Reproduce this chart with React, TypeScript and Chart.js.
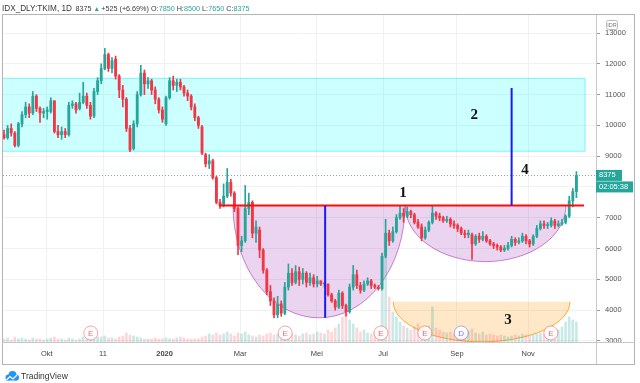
import React, { useEffect, useRef } from 'react';
import { Chart, registerables } from 'chart.js';
Chart.register(...registerables);

// ---------- DATA (one candle ≈ 2 trading days) ----------
const opens = [
  9700, 9600, 9900, 9750, 9350, 10050, 10350, 10600, 10400, 10950,
  10550, 10400, 10450, 10450, 10800, 9800, 9700, 9800, 9700, 10650,
  10700, 10550, 10750, 10950, 10650, 10300, 11100, 11450, 11850, 12300,
  11850, 12150, 11600, 11150, 10850, 9900, 9250, 10050, 11000, 11700,
  11350, 11450, 11150, 10850, 10500, 10050, 10900, 11450, 11300, 11400,
  11250, 11050, 10950, 10600, 10250, 9950, 9050, 8750, 8850, 8300,
  7500, 7400, 7700, 8150, 7800, 7300, 6100, 6250, 7300, 7500,
  6500, 6600, 5950, 5300, 4600, 4300, 3850, 4200, 3900, 4750,
  5200, 4900, 5250, 5000, 5200, 4900, 5050, 4850, 4950, 4850,
  4850, 4500, 4300, 4100, 4550, 4150, 3950, 4750, 5150, 4800,
  4650, 4850, 4950, 4800, 4750, 4700, 5750, 6500, 6250, 6550,
  7000, 7150, 7050, 7200, 7100, 6850, 6700, 6350, 6600, 6850,
  7150, 7050, 7000, 6900, 6950, 6800, 6750, 6650, 6500, 6450,
  6450, 6150, 6400, 6300, 6400, 6250, 6150, 6100, 6050, 5950,
  6000, 6100, 6300, 6200, 6250, 6400, 6250, 6150, 6400, 6650,
  6800, 6750, 6750, 6900, 6750, 6800, 6850, 7050, 7550, 7850,
];
const closes = [
  9600, 9900, 9750, 9350, 10050, 10350, 10600, 10400, 10950, 10550,
  10400, 10450, 10500, 10800, 9800, 9700, 9800, 9700, 10650, 10700,
  10500, 10750, 10950, 10650, 10300, 11100, 11450, 11850, 12300, 11850,
  12100, 11600, 11150, 10850, 9900, 9200, 10050, 11000, 11700, 11350,
  11450, 11150, 10850, 10500, 10200, 10900, 11450, 11300, 11400, 11250,
  11050, 10950, 10600, 10250, 10000, 9100, 8750, 8850, 8300, 7500,
  7400, 7700, 8150, 7800, 7300, 6100, 6250, 7300, 7500, 6500,
  6700, 5950, 5300, 4600, 4300, 3850, 4200, 3900, 4750, 5200,
  4900, 5250, 5000, 5200, 4900, 5050, 4850, 4950, 4850, 4850,
  4500, 4300, 4100, 4550, 4150, 3950, 4750, 5150, 4800, 4650,
  4850, 4950, 4800, 4750, 4700, 5750, 6500, 6250, 6550, 7000,
  7150, 7050, 7200, 7100, 6850, 6700, 6350, 6600, 6850, 7150,
  7050, 7000, 6900, 6950, 6800, 6750, 6650, 6500, 6450, 6500,
  6150, 6400, 6300, 6400, 6250, 6150, 6100, 6050, 5950, 6000,
  6100, 6300, 6200, 6250, 6400, 6250, 6150, 6400, 6650, 6800,
  6750, 6750, 6900, 6750, 6800, 6850, 7050, 7550, 7850, 8375,
];
const highs = [
  9850, 10000, 10050, 9800, 10100, 10450, 10750, 10700, 11100, 11000,
  10600, 10550, 10600, 10900, 10800, 10000, 9950, 9900, 10750, 10800,
  10750, 11050, 11400, 11050, 10750, 11200, 11550, 12000, 12500, 12350,
  12200, 12250, 11650, 11300, 10900, 10000, 10150, 11100, 11950, 11800,
  11550, 11500, 11250, 10900, 10600, 10950, 11550, 11600, 11500, 11500,
  11300, 11150, 11000, 10700, 10300, 10000, 9100, 9050, 8900, 8350,
  7600, 8100, 8600, 8250, 7850, 7350, 6400, 8050, 7800, 7550,
  6900, 6700, 6000, 5350, 4800, 4400, 4450, 4300, 4900, 5500,
  5350, 5450, 5400, 5350, 5250, 5200, 5150, 5100, 4950, 4900,
  4850, 4550, 4350, 4650, 4600, 4200, 4850, 5450, 5300, 4900,
  4950, 5050, 5000, 4850, 4800, 5850, 6950, 6600, 6700, 7100,
  7400, 7300, 7350, 7250, 7150, 6950, 6800, 6700, 6900, 7400,
  7200, 7150, 7050, 7050, 7000, 6900, 6800, 6700, 6600, 6600,
  6500, 6450, 6500, 6550, 6450, 6300, 6200, 6150, 6100, 6100,
  6200, 6400, 6350, 6350, 6500, 6450, 6300, 6450, 6750, 6900,
  6900, 6850, 7000, 6950, 6900, 6950, 7100, 7700, 7950, 8500,
];
const lows = [
  9550, 9550, 9650, 9300, 9300, 9950, 10250, 10250, 10350, 10450,
  10100, 10250, 10200, 10400, 9750, 9600, 9550, 9600, 9650, 10550,
  10400, 10500, 10700, 10550, 10200, 10250, 11000, 11350, 11800, 11750,
  11700, 11500, 10900, 10600, 9800, 9150, 9200, 9950, 10950, 11000,
  11200, 11000, 10700, 10400, 10100, 10000, 10850, 11150, 11100, 11150,
  10950, 10800, 10500, 10150, 9900, 9050, 8650, 8600, 8250, 7450,
  7300, 7350, 7650, 7700, 7200, 5800, 5900, 6200, 7100, 6350,
  6200, 5700, 5200, 4500, 4150, 3750, 3750, 3800, 3850, 4650,
  4800, 4850, 4800, 4850, 4750, 4800, 4750, 4750, 4800, 4750,
  4450, 4250, 4000, 4050, 4050, 3800, 3900, 4650, 4700, 4550,
  4600, 4800, 4700, 4700, 4650, 4650, 5700, 6100, 6200, 6500,
  6950, 6850, 7000, 7000, 6800, 6650, 6250, 6300, 6550, 6800,
  6950, 6900, 6850, 6850, 6700, 6650, 6550, 6450, 6350, 6350,
  5650, 6100, 6200, 6250, 6200, 6100, 6000, 5950, 5900, 5900,
  5950, 6050, 6100, 6150, 6200, 6150, 6050, 6100, 6350, 6600,
  6650, 6650, 6700, 6650, 6700, 6750, 6800, 7000, 7350, 7650,
];
// relative volume (arbitrary units)
const volumes = [
  3, 4, 2, 5, 3, 4, 3, 2, 4, 3,
  3, 2, 3, 4, 5, 3, 3, 2, 4, 3,
  2, 3, 5, 3, 4, 4, 5, 5, 6, 4,
  4, 3, 5, 6, 9, 7, 6, 5, 4, 3,
  3, 3, 4, 3, 3, 4, 3, 3, 4, 5,
  4, 3, 3, 3, 3, 5, 6, 8, 7, 9,
  7, 8, 10, 8, 6, 9, 8, 10, 7, 6,
  5, 7, 6, 8, 9, 7, 8, 6, 9, 10,
  8, 7, 6, 8, 9, 7, 8, 10, 9, 8,
  12, 10, 14, 18, 25, 28, 22, 18, 14, 10,
  12, 9, 8, 10, 11, 60, 85, 45, 30, 25,
  20, 16, 14, 12, 15, 18, 14, 12, 16, 35,
  14, 12, 10, 9, 10, 8, 9, 8, 10, 11,
  13, 9, 8, 10, 7, 8, 7, 6, 7, 6,
  5, 6, 7, 6, 8, 7, 6, 7, 8, 9,
  8, 7, 9, 8, 12, 15, 20, 25, 22, 20,
];

const monthTickIdx = [11.9, 27.5, 44.6, 65.6, 86.9, 105.3, 125.8, 145.6];
const monthLabels = ['Okt', '11', '2020', 'Mar', 'Mei', 'Jul', 'Sep', 'Nov'];
const priceTicks = [3000, 4000, 5000, 6000, 7000, 8000, 9000, 10000, 11000, 12000, 13000];

const symbolText = 'IDX_DLY:TKIM, 1D';
const lastPrice = 8375;
const changeText = '+525 (+6.69%)';
const ohlcLabels = ['O:', 'H:', 'L:', 'C:'];
const ohlcValues = [7850, 8500, 7650, 8375];
const countdown = '02:05:38';

const earningsIdx = [24.1, 78.1, 104.7, 116.9, 151.9];
const dividendIdx = [127];

// drawing annotations (in data coordinates)
const zone = { from: -5, to: 161.4, top: 11530, bottom: 9160 };
const resistance = { price: 7400, from: 59.7, to: 161.1 };
const cups = [
  { from: 63.6, to: 111.4, bottom: 3750 },
  { from: 111.4, to: 156.1, bottom: 5575 },
];
const volumeBowl = { from: 108.1, to: 157.2, top: 4270, bottom: 2970 };
const blueLines = [
  { idx: 89.2, from: 7400, to: 3750 },
  { idx: 141.0, from: 7400, to: 11215 },
];
const numberLabels = [
  { text: '1', idx: 110.8, price: 7806 },
  { text: '2', idx: 130.6, price: 10338 },
  { text: '3', idx: 140.0, price: 3682 },
  { text: '4', idx: 144.7, price: 8552 },
];

const UP = '#26a69a';
const DOWN = '#f23645';
const FONT = "'Liberation Sans', Arial, sans-serif";

const plugin = {
  id: 'tvAnnotations',
  beforeDatasetsDraw(chart: any) {
    const { ctx, chartArea: a, scales } = chart;
    const x = scales.x, y = scales.y;
    ctx.save();
    ctx.beginPath();
    ctx.rect(a.left, a.top, a.right - a.left, a.bottom - a.top);
    ctx.clip();

    const zx1 = x.getPixelForValue(zone.from), zx2 = x.getPixelForValue(zone.to);
    const zy1 = y.getPixelForValue(zone.top), zy2 = y.getPixelForValue(zone.bottom);
    ctx.fillStyle = 'rgba(0,255,255,0.2)';
    ctx.fillRect(zx1, zy1, zx2 - zx1, zy2 - zy1);
    ctx.strokeStyle = 'rgba(0,230,230,0.45)';
    ctx.lineWidth = 1;
    ctx.strokeRect(zx1, zy1, zx2 - zx1, zy2 - zy1);

    const ly = Math.round(y.getPixelForValue(lastPrice)) + 0.5;
    ctx.setLineDash([1, 2]);
    ctx.strokeStyle = '#8aa';
    ctx.beginPath();
    ctx.moveTo(a.left, ly);
    ctx.lineTo(a.right, ly);
    ctx.stroke();
    ctx.setLineDash([]);

    const ry0 = y.getPixelForValue(resistance.price);
    for (const c of cups) {
      const x1 = x.getPixelForValue(c.from), x2 = x.getPixelForValue(c.to);
      const cx = (x1 + x2) / 2, rx = (x2 - x1) / 2;
      const ry = y.getPixelForValue(c.bottom) - ry0;
      ctx.beginPath();
      ctx.ellipse(cx, ry0, rx, ry, 0, 0, Math.PI);
      ctx.closePath();
      ctx.fillStyle = 'rgba(156,39,176,0.2)';
      ctx.fill();
      ctx.beginPath();
      ctx.ellipse(cx, ry0, rx, ry, 0, 0, Math.PI);
      ctx.strokeStyle = 'rgba(156,39,176,0.55)';
      ctx.lineWidth = 1;
      ctx.stroke();
    }

    {
      const x1 = x.getPixelForValue(volumeBowl.from), x2 = x.getPixelForValue(volumeBowl.to);
      const cx = (x1 + x2) / 2, rx = (x2 - x1) / 2;
      const top = y.getPixelForValue(volumeBowl.top);
      const ry = y.getPixelForValue(volumeBowl.bottom) - top;
      ctx.beginPath();
      ctx.ellipse(cx, top, rx, ry, 0, 0, Math.PI);
      ctx.closePath();
      ctx.fillStyle = 'rgba(255,152,0,0.22)';
      ctx.fill();
      ctx.beginPath();
      ctx.ellipse(cx, top, rx, ry, 0, 0, Math.PI);
      ctx.strokeStyle = 'rgba(255,152,0,0.8)';
      ctx.lineWidth = 1;
      ctx.stroke();
    }
    ctx.restore();
  },
  afterDatasetsDraw(chart: any) {
    const { ctx, chartArea: a, scales } = chart;
    const x = scales.x, y = scales.y;
    ctx.save();
    ctx.beginPath();
    ctx.rect(a.left, a.top, a.right - a.left, a.bottom - a.top);
    ctx.clip();

    const ry = y.getPixelForValue(resistance.price);
    ctx.strokeStyle = '#ff0d0d';
    ctx.lineWidth = 2;
    ctx.beginPath();
    ctx.moveTo(x.getPixelForValue(resistance.from), ry);
    ctx.lineTo(x.getPixelForValue(resistance.to), ry);
    ctx.stroke();

    ctx.strokeStyle = '#1a1aff';
    ctx.lineWidth = 2;
    for (const b of blueLines) {
      const bx = x.getPixelForValue(b.idx);
      ctx.beginPath();
      ctx.moveTo(bx, y.getPixelForValue(b.from));
      ctx.lineTo(bx, y.getPixelForValue(b.to));
      ctx.stroke();
    }

    ctx.fillStyle = '#111';
    ctx.font = "bold 15px 'Liberation Serif', 'Times New Roman', serif";
    ctx.textAlign = 'center';
    ctx.textBaseline = 'middle';
    for (const n of numberLabels) {
      ctx.fillText(n.text, x.getPixelForValue(n.idx), y.getPixelForValue(n.price));
    }

    const ey = a.bottom - 9;
    const drawMarker = (idx: number, letter: string, stroke: string, color: string) => {
      const ex = x.getPixelForValue(idx);
      ctx.beginPath();
      ctx.arc(ex, ey, 7, 0, Math.PI * 2);
      ctx.fillStyle = 'rgba(255,255,255,0.85)';
      ctx.fill();
      ctx.strokeStyle = stroke;
      ctx.lineWidth = 1;
      ctx.stroke();
      ctx.fillStyle = color;
      ctx.font = `8px ${FONT}`;
      ctx.fillText(letter, ex, ey + 0.5);
    };
    for (const e of earningsIdx) drawMarker(e, 'E', 'rgba(242,54,69,0.45)', 'rgba(242,54,69,0.75)');
    for (const d of dividendIdx) drawMarker(d, 'D', 'rgba(41,98,255,0.45)', 'rgba(41,98,255,0.75)');
    ctx.restore();
  },
  afterDraw(chart: any) {
    const { ctx, chartArea: a, scales, width } = chart;
    const y = scales.y;
    ctx.save();
    ctx.strokeStyle = '#b4b4b4';
    ctx.lineWidth = 1;
    const right = width - 5.5;
    const bottom = a.bottom + 22.5;
    ctx.strokeRect(2.5, a.top - 0.5, right - 2.5, bottom - a.top + 0.5);
    ctx.strokeStyle = '#c8c8c8';
    ctx.beginPath();
    ctx.moveTo(a.right + 0.5, a.top);
    ctx.lineTo(a.right + 0.5, bottom);
    ctx.moveTo(2.5, a.bottom + 0.5);
    ctx.lineTo(right, a.bottom + 0.5);
    ctx.stroke();

    const ly = y.getPixelForValue(lastPrice);
    ctx.fillStyle = UP;
    ctx.fillRect(a.right, ly - 5.5, 26, 11);
    ctx.fillRect(a.right, ly + 6, 37, 11);
    ctx.fillStyle = '#fff';
    ctx.font = `7.5px ${FONT}`;
    ctx.textBaseline = 'middle';
    ctx.textAlign = 'left';
    ctx.fillText(String(lastPrice), a.right + 3, ly);
    ctx.fillText(countdown, a.right + 3, ly + 11.5);

    ctx.fillStyle = '#fff';
    ctx.strokeStyle = '#bbb';
    ctx.beginPath();
    (ctx as any).roundRect(606.5, 20.5, 11, 9, 2);
    ctx.fill();
    ctx.stroke();
    ctx.fillStyle = '#777';
    ctx.font = `5.5px ${FONT}`;
    ctx.textAlign = 'center';
    ctx.fillText('IDR', 612, 25.3);

    // header: symbol, last, change, then O/H/L/C groups
    ctx.textAlign = 'left';
    const dark = '#3a3a3a';
    const put = (t: string, c: string, px: number, f: string) => {
      ctx.font = f;
      ctx.fillStyle = c;
      ctx.fillText(t, px, 9);
      return px + ctx.measureText(t).width;
    };
    const fSym = `8.2px ${FONT}`;
    const fNum = `7.2px ${FONT}`;
    let hx = put(symbolText, dark, 2, fSym) + 3.5;
    hx = put(String(lastPrice), dark, hx, fNum) + 2;
    hx = put('▲', UP, hx, `6.5px ${FONT}`) + 1.5;
    hx = put(changeText, dark, hx, fNum) + 2;
    ohlcLabels.forEach((l, i) => {
      hx = put(l, dark, hx, fNum) + 0.2;
      hx = put(String(ohlcValues[i]), UP, hx, fNum) + 2;
    });

    // TradingView logo
    ctx.fillStyle = '#2196f3';
    ctx.beginPath();
    ctx.arc(8.5, 377.5, 3, 0, Math.PI * 2);
    ctx.arc(12.5, 375, 4, 0, Math.PI * 2);
    ctx.fill();
    ctx.beginPath();
    ctx.arc(16, 377.5, 3, 0, Math.PI * 2);
    ctx.fill();
    ctx.fillRect(6, 377, 11, 3.5);
    ctx.strokeStyle = '#fff';
    ctx.lineWidth = 1.2;
    ctx.beginPath();
    ctx.moveTo(6.5, 380);
    ctx.lineTo(10, 376.5);
    ctx.lineTo(13, 379);
    ctx.lineTo(17, 375);
    ctx.stroke();
    ctx.fillStyle = '#333';
    ctx.font = `8.5px ${FONT}`;
    ctx.textBaseline = 'middle';
    ctx.fillText('TradingView', 21, 376.5);
    ctx.restore();
  },
};

export default function App() {
  const ref = useRef<HTMLCanvasElement | null>(null);
  useEffect(() => {
    if (!ref.current) return;
    const idx = opens.map((_, i) => i);
    const isUp = idx.map((i) => closes[i] >= opens[i]);
    const chart = new Chart(ref.current, {
      type: 'bar',
      data: {
        datasets: [
          {
            label: 'Volume',
            data: idx.map((i) => ({ x: i, y: volumes[i] })) as any,
            yAxisID: 'v',
            backgroundColor: idx.map((i) => (isUp[i] ? 'rgba(38,166,154,0.25)' : 'rgba(242,54,69,0.2)')),
            barThickness: 2,
            grouped: false,
            order: 3,
          },
          {
            label: 'Wicks',
            data: idx.map((i) => ({ x: i, y: [lows[i], highs[i]] })) as any,
            yAxisID: 'y',
            backgroundColor: idx.map((i) => (isUp[i] ? UP : DOWN)),
            barThickness: 1,
            grouped: false,
            order: 2,
          },
          {
            label: 'Bodies',
            data: idx.map((i) => ({ x: i, y: [opens[i], closes[i]] })) as any,
            yAxisID: 'y',
            backgroundColor: idx.map((i) => (isUp[i] ? UP : DOWN)),
            barThickness: 2.2,
            minBarLength: 1,
            grouped: false,
            order: 1,
          },
        ],
      },
      options: {
        responsive: false,
        maintainAspectRatio: false,
        animation: false,
        devicePixelRatio: 1,
        layout: { padding: { left: 3, top: 15, right: 5, bottom: 19 } },
        plugins: { legend: { display: false }, tooltip: { enabled: false }, title: { display: false } },
        scales: {
          x: {
            type: 'linear',
            min: -0.28,
            max: 164.44,
            offset: false,
            grid: { color: '#f1f1f1', drawTicks: false, offset: false },
            border: { display: false },
            afterBuildTicks: (s: any) => {
              s.ticks = monthTickIdx.map((v) => ({ value: v }));
            },
            afterFit: (s: any) => {
              s.height = 22;
            },
            ticks: {
              autoSkip: false,
              maxRotation: 0,
              padding: 7,
              color: '#444',
              font: (c: any) => ({ family: FONT, size: 7.5, weight: c.index === 2 ? 'bold' : 'normal' }),
              callback: (_v: any, i: number) => monthLabels[i],
            },
          },
          y: {
            position: 'right',
            min: 2965,
            max: 13585,
            grid: { color: '#f1f1f1', tickLength: 4, tickColor: '#999' },
            border: { display: false },
            afterBuildTicks: (s: any) => {
              s.ticks = priceTicks.map((v) => ({ value: v }));
            },
            afterFit: (s: any) => {
              s.width = 39;
            },
            ticks: {
              padding: 5,
              color: '#555',
              font: { family: FONT, size: 7.5 },
              callback: (v: any) => String(v),
            },
          },
          v: { display: false, min: 0, max: 327 },
        },
      } as any,
      plugins: [plugin],
    });
    return () => chart.destroy();
  }, []);
  return (
    <div style={{ position: 'fixed', left: 0, top: 0, width: 640, height: 383, background: '#fff' }}>
      <canvas ref={ref} width={640} height={383} style={{ width: 640, height: 383, display: 'block' }} />
    </div>
  );
}
